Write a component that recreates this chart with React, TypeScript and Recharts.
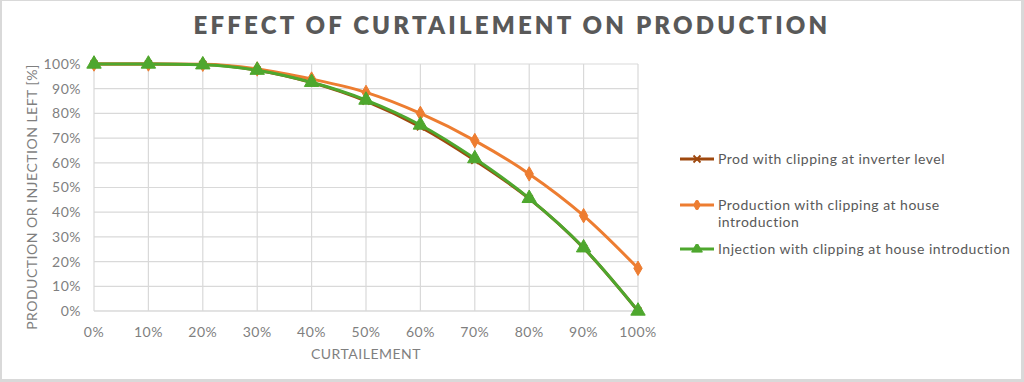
import React from "react";
import { LineChart, Line, XAxis, YAxis, CartesianGrid, Label, Symbols } from "recharts";

const categories = ["0%", "10%", "20%", "30%", "40%", "50%", "60%", "70%", "80%", "90%", "100%"];
const inverterValues = [1, 1, 0.998, 0.975, 0.925, 0.85, 0.745, 0.61, 0.455, 0.255, 0];
const houseProdValues = [1, 1, 0.999, 0.98, 0.939, 0.885, 0.8, 0.69, 0.555, 0.386, 0.173];
const houseInjValues = [1, 1, 0.997, 0.975, 0.926, 0.854, 0.753, 0.617, 0.456, 0.256, 0];
const yTicks = [0, 0.1, 0.2, 0.3, 0.4, 0.5, 0.6, 0.7, 0.8, 0.9, 1];

const seriesNames = [
  "Prod with clipping at inverter level",
  "Production with clipping at house introduction",
  "Injection with clipping at house introduction",
];
const COLORS = ["#9E480E", "#ED7D31", "#4EA72E"];

const data = categories.map((c, i) => ({
  x: c,
  inv: inverterValues[i],
  prod: houseProdValues[i],
  inj: houseInjValues[i],
}));

const FONT = "Lato, 'Open Sans', sans-serif";
const TXT = "#7f7f7f";

const CrossDot = (props: any) => {
  const { cx, cy, index } = props;
  const s = 3.5;
  return (
    <path
      key={`x-${index}`}
      d={`M${cx - s},${cy - s}L${cx + s},${cy + s}M${cx - s},${cy + s}L${cx + s},${cy - s}`}
      stroke={COLORS[0]}
      strokeWidth={1.8}
      fill="none"
    />
  );
};
const DiamondDot = (props: any) => {
  const { cx, cy, index } = props;
  return <Symbols key={`d-${index}`} cx={cx} cy={cy} type="diamond" size={60} fill={COLORS[1]} stroke={COLORS[1]} />;
};
const TriangleDot = (props: any) => {
  const { cx, cy, index } = props;
  return <Symbols key={`t-${index}`} cx={cx} cy={cy} type="triangle" size={90} fill={COLORS[2]} stroke={COLORS[2]} />;
};

const LegendMarker = ({ i }: { i: number }) => (
  <svg width={36} height={10} style={{ flex: "none", marginTop: 4 }}>
    <line x1={1} y1={5} x2={35} y2={5} stroke={COLORS[i]} strokeWidth={3} />
    {i === 0 && <path d="M14.5,1.5L21.5,8.5M14.5,8.5L21.5,1.5" stroke={COLORS[0]} strokeWidth={1.8} />}
    {i === 1 && <Symbols cx={18} cy={5} type="diamond" size={40} fill={COLORS[1]} stroke={COLORS[1]} />}
    {i === 2 && <Symbols cx={18} cy={5} type="triangle" size={50} fill={COLORS[2]} stroke={COLORS[2]} />}
  </svg>
);

const CustomLegend = () => {
  const gaps = [0, 29, 10];
  return (
    <div
      style={{
        position: "absolute",
        left: 679,
        top: 150,
        width: 340,
        fontFamily: FONT,
        fontSize: 14,
        letterSpacing: 0.5,
        color: "#595959",
      }}
    >
      {seriesNames.map((n, i) => (
        <div key={n} style={{ display: "flex", alignItems: "flex-start", marginTop: gaps[i], lineHeight: "17px" }}>
          <LegendMarker i={i} />
          <div style={{ marginLeft: 3, width: 296 }}>{n}</div>
        </div>
      ))}
    </div>
  );
};

const tickStyle = { fill: TXT, fontSize: 14, fontFamily: FONT, letterSpacing: 0.5 };

export default function App() {
  return (
    <div style={{ position: "fixed", left: 0, top: 0, width: 1024, height: 382, background: "#fff" }}>
      <div
        style={{
          position: "absolute",
          left: 0,
          top: 10,
          width: 1024,
          textAlign: "center",
          fontFamily: FONT,
          fontWeight: 800,
          fontSize: 24,
          letterSpacing: 3.2,
          color: "#595959",
        }}
      >
        EFFECT OF CURTAILEMENT ON PRODUCTION
      </div>
      <div style={{ position: "absolute", left: 0, top: 0 }}>
        <LineChart width={1024} height={382} data={data} margin={{ top: 64, right: 386, left: 0, bottom: 0 }}>
          <CartesianGrid stroke="#d9d9d9" strokeWidth={1.2} />
          <XAxis
            dataKey="x"
            height={71}
            interval={0}
            tickLine={false}
            axisLine={{ stroke: "#d9d9d9" }}
            tick={tickStyle}
            tickMargin={10}
          >
            <Label
              content={() => (
                <text
                  x={366}
                  y={353}
                  textAnchor="middle"
                  dominantBaseline="central"
                  fill={TXT}
                  fontSize={14}
                  letterSpacing={0.5}
                  fontFamily={FONT}
                >
                  CURTAILEMENT
                </text>
              )}
            />
          </XAxis>
          <YAxis
            width={94}
            domain={[0, 1]}
            ticks={yTicks}
            interval={0}
            tickFormatter={(v: number) => `${Math.round(v * 100)}%`}
            tickLine={false}
            axisLine={false}
            tick={tickStyle}
            tickMargin={7}
          >
            <Label
              content={() => (
                <text
                  x={31}
                  y={197}
                  transform="rotate(-90, 31, 197)"
                  textAnchor="middle"
                  dominantBaseline="central"
                  fill={TXT}
                  fontSize={14}
                  letterSpacing={0.5}
                  fontFamily={FONT}
                >
                  PRODUCTION OR INJECTION LEFT [%]
                </text>
              )}
            />
          </YAxis>
          <Line
            type="monotone"
            dataKey="inv"
            name={seriesNames[0]}
            stroke={COLORS[0]}
            strokeWidth={3}
            dot={CrossDot}
            isAnimationActive={false}
          />
          <Line
            type="monotone"
            dataKey="prod"
            name={seriesNames[1]}
            stroke={COLORS[1]}
            strokeWidth={3}
            dot={DiamondDot}
            isAnimationActive={false}
          />
          <Line
            type="monotone"
            dataKey="inj"
            name={seriesNames[2]}
            stroke={COLORS[2]}
            strokeWidth={3}
            dot={TriangleDot}
            isAnimationActive={false}
          />
        </LineChart>
      </div>
      <CustomLegend />
      <div
        style={{
          position: "absolute",
          left: 0,
          top: 0,
          width: 1024,
          height: 382,
          boxSizing: "border-box",
          borderTop: "1px solid #d9d9d9",
          borderLeft: "2px solid #d9d9d9",
          borderRight: "3px solid #d9d9d9",
          borderBottom: "3px solid #d9d9d9",
          pointerEvents: "none",
        }}
      />
    </div>
  );
}
